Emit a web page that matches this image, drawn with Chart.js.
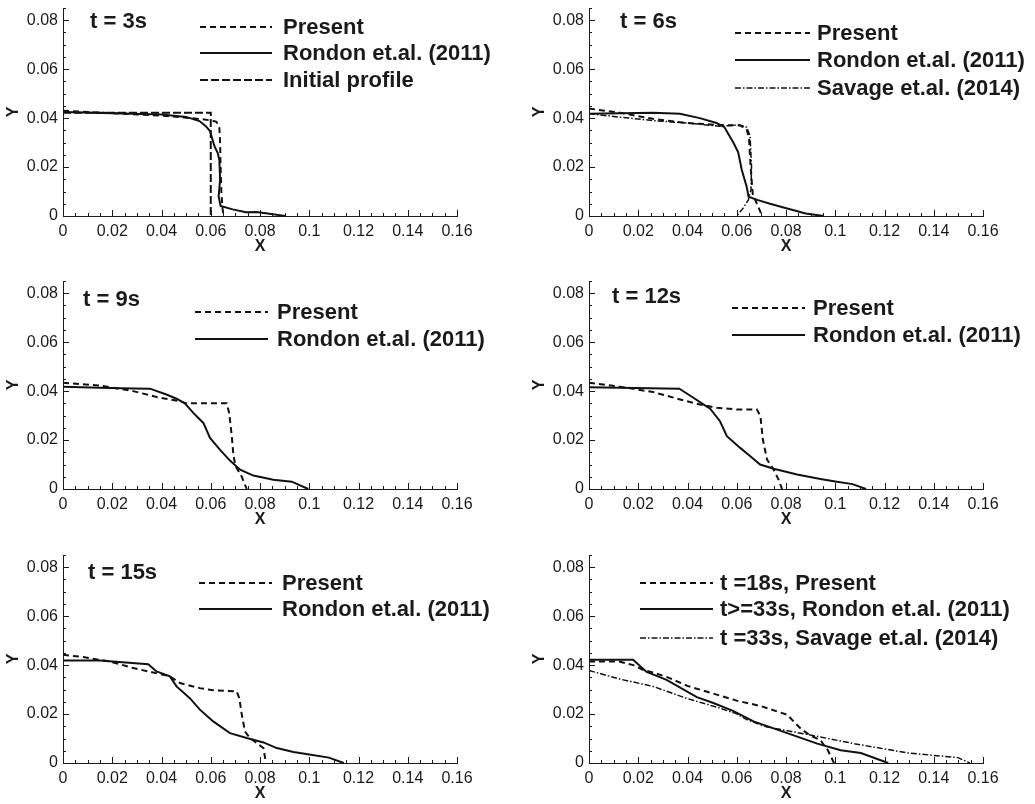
<!DOCTYPE html>
<html>
<head>
<meta charset="utf-8">
<script src="https://cdn.jsdelivr.net/npm/chart.js@4.4.1/dist/chart.umd.min.js"></script>
<style>
  html, body { margin: 0; padding: 0; background: #fff; }
  #wrap { position: relative; width: 1035px; height: 804px; overflow: hidden; }
  canvas { position: absolute; }
</style>
</head>
<body>
<div id="wrap">
  <canvas id="c1" width="509" height="257" style="left:0;top:0"></canvas>
  <canvas id="c2" width="509" height="257" style="left:526px;top:0"></canvas>
  <canvas id="c3" width="509" height="257" style="left:0;top:273px"></canvas>
  <canvas id="c4" width="509" height="257" style="left:526px;top:273px"></canvas>
  <canvas id="c5" width="509" height="257" style="left:0;top:547px"></canvas>
  <canvas id="c6" width="509" height="257" style="left:526px;top:547px"></canvas>
</div>
<script>
// tick labels
const xTicks = [0, 0.02, 0.04, 0.06, 0.08, 0.1, 0.12, 0.14, 0.16];
const yTicks = [0, 0.02, 0.04, 0.06, 0.08];

// t = 3s
const t3Present = [[0,0.0430],[0.01,0.0425],[0.02,0.0420],[0.03,0.0415],[0.04,0.0410],[0.05,0.0402],[0.056,0.0396],[0.0605,0.0390],[0.0623,0.0385],[0.0635,0.0360],[0.0638,0.030],[0.0640,0.020],[0.0643,0.010],[0.0648,0.003],[0.0652,0]];
const t3Rondon = [[0,0.0425],[0.02,0.0420],[0.04,0.0415],[0.05,0.0405],[0.0554,0.0388],[0.058,0.0367],[0.0597,0.0347],[0.0615,0.0285],[0.0628,0.0258],[0.0635,0.023],[0.0638,0.0148],[0.0632,0.008],[0.064,0.0041],[0.0689,0.0027],[0.0743,0.0015],[0.0784,0.0016],[0.0824,0.0011],[0.0902,0]];
const t3Initial = [[0,0.0422],[0.06,0.0422],[0.06,0]];

// t = 6s
const t6Present = [[0,0.0439],[0.0125,0.0422],[0.026,0.0397],[0.0396,0.0380],[0.053,0.0372],[0.0613,0.0370],[0.064,0.0356],[0.065,0.0314],[0.0656,0.0204],[0.0665,0.0090],[0.0703,0]];
const t6Rondon = [[0,0.0418],[0.026,0.0422],[0.0369,0.0418],[0.045,0.0400],[0.0518,0.0380],[0.055,0.0363],[0.0586,0.0300],[0.0606,0.0260],[0.062,0.0190],[0.064,0.0121],[0.0648,0.0079],[0.0683,0.0066],[0.0735,0.0050],[0.0805,0.0031],[0.088,0.0010],[0.0953,0]];
const t6Savage = [[0,0.0418],[0.0125,0.0404],[0.026,0.0390],[0.0396,0.0380],[0.053,0.0367],[0.0613,0.0372],[0.064,0.0363],[0.0654,0.0328],[0.066,0.0204],[0.0658,0.0108],[0.0647,0.0066],[0.0626,0.0032],[0.060,0]];

// t = 9s
const t9Present = [[0,0.0434],[0.0149,0.0423],[0.0285,0.0400],[0.0393,0.0373],[0.0475,0.0359],[0.050,0.0350],[0.0556,0.0350],[0.0665,0.0350],[0.0675,0.0310],[0.0685,0.0220],[0.0692,0.0140],[0.070,0.0095],[0.0726,0.0050],[0.0746,0]];
const t9Rondon = [[0,0.0418],[0.0149,0.0414],[0.0285,0.0411],[0.0353,0.0410],[0.042,0.0386],[0.0461,0.0369],[0.0495,0.0350],[0.0529,0.0311],[0.057,0.0270],[0.0597,0.0209],[0.0637,0.0161],[0.0678,0.0116],[0.0719,0.0079],[0.0773,0.0055],[0.0854,0.0038],[0.0929,0.0030],[0.0996,0]];

// t = 12s
const t12Present = [[0,0.0434],[0.0125,0.0418],[0.0261,0.0396],[0.037,0.0366],[0.0451,0.0345],[0.0519,0.0332],[0.060,0.0325],[0.0682,0.0325],[0.0696,0.0298],[0.0706,0.0202],[0.0723,0.0120],[0.075,0.0079],[0.077,0.0038],[0.0784,0]];
const t12Rondon = [[0,0.0416],[0.0367,0.0410],[0.0424,0.0373],[0.0458,0.0350],[0.0492,0.0328],[0.0532,0.0277],[0.056,0.0216],[0.0614,0.0168],[0.0655,0.0134],[0.0695,0.0100],[0.075,0.0083],[0.0845,0.0059],[0.094,0.0041],[0.100,0.0031],[0.107,0.0020],[0.1125,0]];

// t = 15s
const t15Present = [[0,0.0442],[0.0081,0.0433],[0.019,0.0415],[0.0285,0.0388],[0.0366,0.0370],[0.0434,0.0354],[0.0475,0.0327],[0.0556,0.0306],[0.061,0.0297],[0.0705,0.0293],[0.0716,0.0265],[0.0725,0.0204],[0.0739,0.0129],[0.0759,0.0102],[0.0786,0.0082],[0.0814,0.0061],[0.0824,0]];
const t15Rondon = [[0,0.0419],[0.0149,0.0419],[0.0346,0.0404],[0.038,0.0374],[0.0434,0.0354],[0.0461,0.0313],[0.0515,0.0265],[0.0556,0.0218],[0.061,0.0170],[0.0678,0.0122],[0.0746,0.0102],[0.0814,0.0084],[0.0868,0.0061],[0.0936,0.0045],[0.100,0.0035],[0.108,0.0022],[0.114,0]];

// t = 18s / 33s
const t18Present = [[0,0.0415],[0.012,0.0415],[0.018,0.0400],[0.022,0.0380],[0.026,0.0370],[0.032,0.0350],[0.040,0.0315],[0.050,0.0285],[0.060,0.0255],[0.070,0.0232],[0.0805,0.0197],[0.086,0.0140],[0.0895,0.0115],[0.094,0.0093],[0.097,0.0052],[0.0995,0]];
const t33Rondon = [[0,0.0422],[0.0179,0.0422],[0.0234,0.0372],[0.0315,0.0340],[0.0438,0.0269],[0.0505,0.0245],[0.0587,0.0212],[0.0668,0.0170],[0.0805,0.0122],[0.0927,0.0079],[0.1022,0.0052],[0.1104,0.0041],[0.1215,0]];
const t33Savage = [[0,0.0378],[0.0125,0.0343],[0.026,0.0313],[0.0397,0.0264],[0.0532,0.0224],[0.060,0.0201],[0.0641,0.0177],[0.0723,0.0147],[0.0886,0.0117],[0.1077,0.0079],[0.1294,0.0041],[0.1498,0.0022],[0.1546,0]];

const FONT = "'Liberation Sans', Arial, Helvetica, sans-serif";
const INK = '#1a1a1a';

const styles = {
  present: { dash: [6, 4], width: 2 },
  rondon: { dash: [], width: 2 },
  initial: { dash: [8, 3], width: 2 },
  savage: { dash: [6, 2, 1.5, 2], width: 1.5 },
};

// inward minor/major ticks, panel title and the line legend
const axisDecor = {
  id: 'axisDecor',
  afterDraw(chart, args, opts) {
    const { ctx, chartArea, scales: { x, y } } = chart;
    ctx.save();
    ctx.strokeStyle = INK;
    ctx.lineWidth = 1;
    ctx.beginPath();
    for (let i = 0; i <= 32; i++) {
      const px = Math.round(x.getPixelForValue(i * 0.005)) + 0.5;
      const len = i % 4 === 0 ? 6 : 3;
      ctx.moveTo(px, chartArea.bottom);
      ctx.lineTo(px, chartArea.bottom - len);
    }
    for (let i = 0; i <= 17; i++) {
      const py = Math.round(y.getPixelForValue(i * 0.005)) + 0.5;
      const len = i % 4 === 0 ? 6 : 3;
      ctx.moveTo(chartArea.left, py);
      ctx.lineTo(chartArea.left + len, py);
    }
    ctx.stroke();

    ctx.fillStyle = INK;
    ctx.font = 'bold 22px ' + FONT;
    ctx.textBaseline = 'middle';
    ctx.textAlign = 'left';
    if (opts.title) ctx.fillText(opts.title, opts.titleX, opts.titleY);

    const leg = opts.legend;
    chart.data.datasets.forEach((ds, i) => {
      const yy = leg.rows[i];
      ctx.strokeStyle = '#111';
      ctx.lineWidth = ds.borderWidth;
      ctx.setLineDash(ds.borderDash);
      ctx.beginPath();
      ctx.moveTo(leg.x0, yy);
      ctx.lineTo(leg.x1, yy);
      ctx.stroke();
      ctx.setLineDash([]);
      ctx.fillText(ds.label, leg.tx, yy + 1);
    });
    ctx.restore();
  }
};

function fmt(v) { return String(+Number(v).toFixed(3)); }

function makeChart(id, series, deco) {
  return new Chart(document.getElementById(id), {
    type: 'line',
    data: {
      datasets: series.map(s => ({
        label: s.label,
        data: s.points.map(([x, y]) => ({ x, y })),
        borderColor: '#111',
        borderWidth: styles[s.style].width,
        borderDash: styles[s.style].dash,
        pointRadius: 0,
        fill: false,
        tension: 0,
        clip: 6,
      }))
    },
    options: {
      responsive: false,
      animation: false,
      events: [],
      layout: { padding: { left: 0, top: 8, right: 52, bottom: 0 } },
      plugins: { legend: { display: false }, tooltip: { enabled: false }, axisDecor: deco },
      scales: {
        x: {
          type: 'linear', min: 0, max: 0.16,
          afterBuildTicks: s => { s.ticks = xTicks.map(v => ({ value: v })); },
          afterFit: s => { s.height = 41; s.paddingLeft = 0; s.paddingRight = 0; s.paddingTop = 0; s.paddingBottom = 0; },
          grid: { display: false, drawTicks: false },
          border: { display: true, color: INK, width: 1 },
          ticks: { padding: 6, maxRotation: 0, autoSkip: false, color: INK, font: { family: FONT, size: 16 }, callback: fmt },
          title: { display: true, text: 'X', color: INK, font: { family: FONT, size: 16, weight: 'bold' }, padding: { top: 0, bottom: 1 } },
        },
        y: {
          type: 'linear', min: 0, max: 0.085,
          afterBuildTicks: s => { s.ticks = yTicks.map(v => ({ value: v })); },
          afterFit: s => { s.width = 63; s.paddingLeft = 0; s.paddingRight = 0; s.paddingTop = 0; s.paddingBottom = 0; },
          grid: { display: false, drawTicks: false },
          border: { display: true, color: INK, width: 1 },
          ticks: { padding: 5, autoSkip: false, color: INK, font: { family: FONT, size: 16 }, callback: fmt },
          title: { display: true, text: 'Y', color: INK, font: { family: FONT, size: 16, weight: 'bold' }, padding: { top: 4, bottom: 0 } },
        }
      }
    },
    plugins: [axisDecor]
  });
}

makeChart('c1', [
  { label: 'Present', points: t3Present, style: 'present' },
  { label: 'Rondon et.al. (2011)', points: t3Rondon, style: 'rondon' },
  { label: 'Initial profile', points: t3Initial, style: 'initial' },
], { title: 't = 3s', titleX: 90, titleY: 22, legend: { x0: 200, x1: 272, tx: 283, rows: [27, 53, 80] } });

makeChart('c2', [
  { label: 'Present', points: t6Present, style: 'present' },
  { label: 'Rondon et.al. (2011)', points: t6Rondon, style: 'rondon' },
  { label: 'Savage et.al. (2014)', points: t6Savage, style: 'savage' },
], { title: 't = 6s', titleX: 94, titleY: 22, legend: { x0: 209, x1: 284, tx: 291, rows: [33, 60, 88] } });

makeChart('c3', [
  { label: 'Present', points: t9Present, style: 'present' },
  { label: 'Rondon et.al. (2011)', points: t9Rondon, style: 'rondon' },
], { title: 't = 9s', titleX: 83, titleY: 27, legend: { x0: 195, x1: 268, tx: 277, rows: [39, 66] } });

makeChart('c4', [
  { label: 'Present', points: t12Present, style: 'present' },
  { label: 'Rondon et.al. (2011)', points: t12Rondon, style: 'rondon' },
], { title: 't = 12s', titleX: 86, titleY: 24, legend: { x0: 206, x1: 279, tx: 287, rows: [35, 62] } });

makeChart('c5', [
  { label: 'Present', points: t15Present, style: 'present' },
  { label: 'Rondon et.al. (2011)', points: t15Rondon, style: 'rondon' },
], { title: 't = 15s', titleX: 88, titleY: 26, legend: { x0: 199, x1: 272, tx: 282, rows: [36, 62] } });

makeChart('c6', [
  { label: 't =18s, Present', points: t18Present, style: 'present' },
  { label: 't>=33s, Rondon et.al. (2011)', points: t33Rondon, style: 'rondon' },
  { label: 't =33s, Savage et.al. (2014)', points: t33Savage, style: 'savage' },
], { title: '', titleX: 0, titleY: 0, legend: { x0: 114, x1: 187, tx: 194, rows: [36, 62, 91] } });
</script>
</body>
</html>
